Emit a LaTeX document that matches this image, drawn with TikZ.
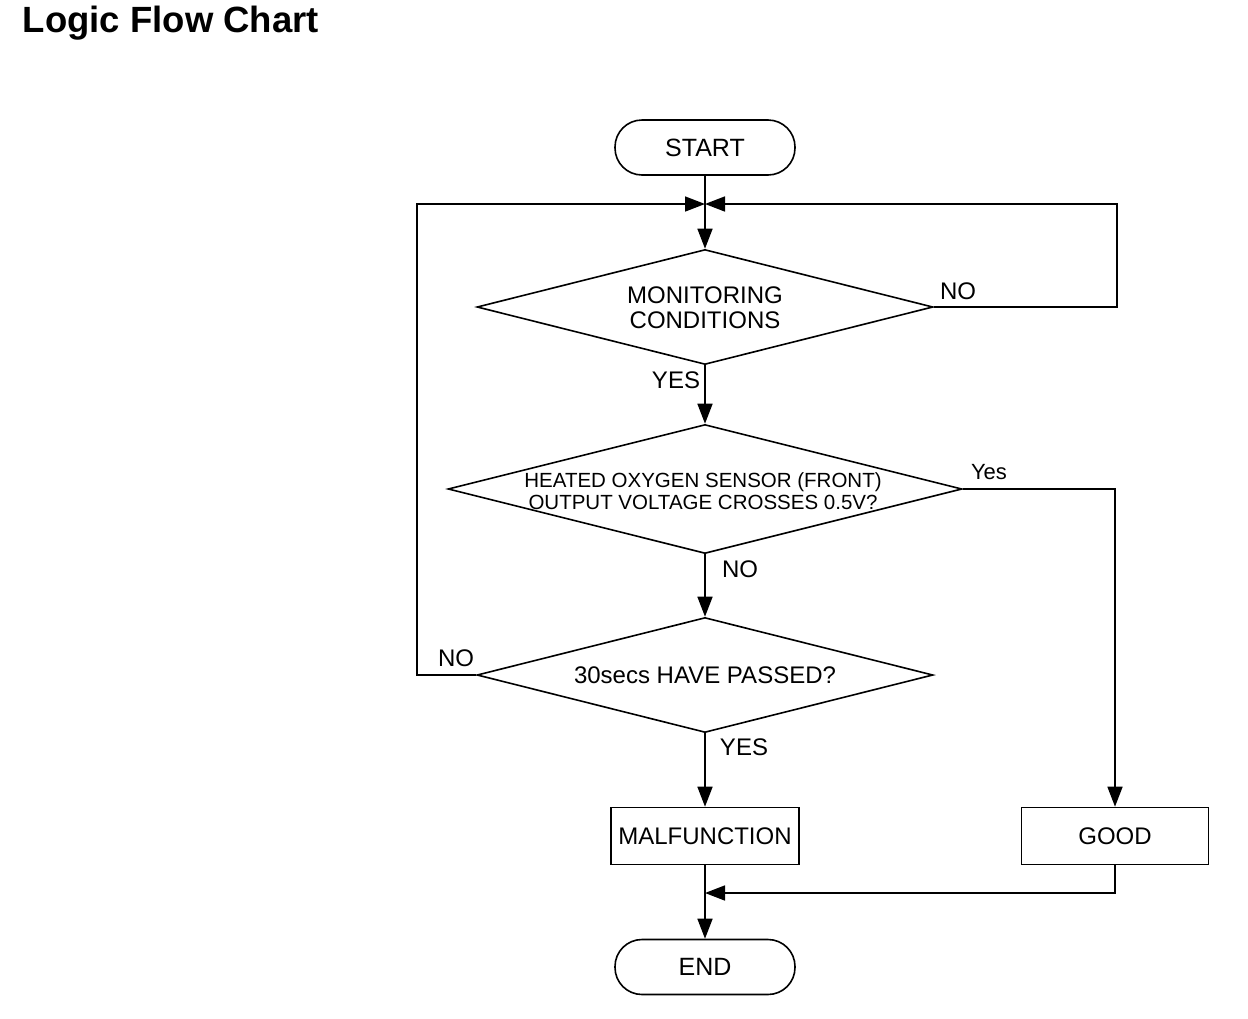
\documentclass[tikz,border=0pt]{standalone}
\usepackage{fontspec}
\setmainfont{Liberation Sans}
\usetikzlibrary{shapes.geometric,arrows.meta}
\begin{document}
\begin{tikzpicture}[x=1pt,y=-1pt,
  line width=1.6pt,
  arr/.style={-{Triangle[length=20pt,width=15pt]}},
  term/.style={draw, rounded corners=27pt, minimum width=180pt, minimum height=55pt, inner sep=0pt, font=\fontsize{25}{26}\selectfont},
  procbox/.style={draw, minimum width=188pt, minimum height=57pt, inner sep=0pt, font=\fontsize{24}{25}\selectfont},
  dia/.style={draw, diamond, inner sep=0pt},
  txt/.style={font=\fontsize{24}{25}\selectfont, align=center, inner sep=0pt},
  smalltxt/.style={font=\fontsize{20.5}{22}\selectfont, align=center, inner sep=0pt},
  lbl/.style={font=\fontsize{24}{25}\selectfont, inner sep=0pt},
]
\useasboundingbox[fill=white] (0,0) rectangle (1248,1018);

\node[font=\fontsize{36.5}{40}\selectfont\bfseries, anchor=base west, inner sep=0pt] (title) at (22,32) {Logic Flow Chart};

\node[term] (start) at (705,147.5) {START};
\coordinate (j1) at (705,204);

\node[dia, minimum width=456pt, minimum height=115pt] (d1) at (705,307) {};
\node[txt] (t1) at (705,308) {MONITORING\\CONDITIONS};

\node[dia, minimum width=514pt, minimum height=129pt] (d2) at (705,489) {};
\node[smalltxt] (t2) at (703,491) {HEATED OXYGEN SENSOR (FRONT)\\OUTPUT VOLTAGE CROSSES 0.5V?};

\node[dia, minimum width=456pt, minimum height=115pt] (d3) at (705,675) {};
\node[txt] (t3) at (705,675) {30secs HAVE PASSED?};

\node[procbox] (malf) at (705,836) {MALFUNCTION};
\node[procbox, minimum width=187pt] (good) at (1115,836) {GOOD};
\coordinate (j2) at (705,893);

\node[term] (end) at (705,967) {END};

% labels
\node[lbl] (l1) at (958,291) {NO};
\node[lbl] (l2) at (676,380) {YES};
\node[lbl, font=\fontsize{22}{24}\selectfont] (l3) at (989,472) {Yes};
\node[lbl] (l4) at (740,569) {NO};
\node[lbl] (l5) at (456,658) {NO};
\node[lbl] (l6) at (744,747) {YES};

% connectors
\draw[arr] (start.south) -- (d1.north);
\draw[arr] (d1.east) -- ++(183,0) |- (j1);
\draw[arr] (d3.west) -- ++(-59,0) |- (j1);
\draw[arr] (d1.south) -- (d2.north);
\draw[arr] (d2.south) -- (d3.north);
\draw[arr] (d2.east) -| (good.north);
\draw[arr] (d3.south) -- (malf.north);
\draw[arr] (good.south) |- (j2);
\draw[arr] (malf.south) -- (end.north);
\end{tikzpicture}
\end{document}
